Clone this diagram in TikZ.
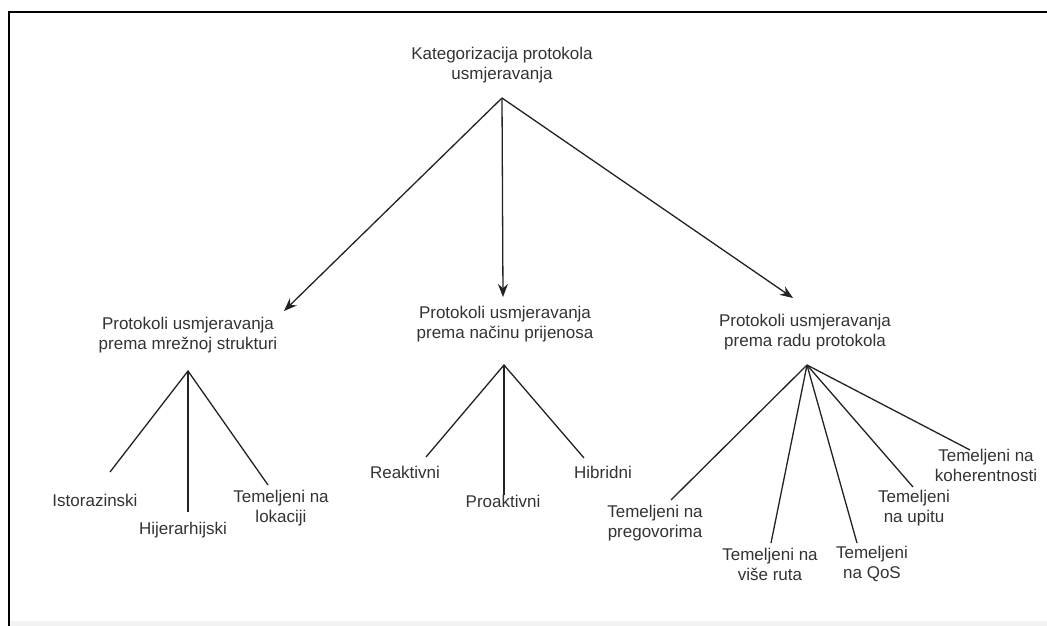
\documentclass[tikz,border=0pt]{standalone}
\usepackage{fontspec}
\setmainfont{Liberation Sans}
\usetikzlibrary{arrows.meta}
\definecolor{txt}{HTML}{333333}
\definecolor{ln}{HTML}{222222}
\tikzset{
  lbl/.style={align=center, text=txt, inner sep=0pt, font=\fontsize{17}{20}\selectfont},
  branch/.style={draw=ln, line width=1.3pt},
  arr/.style={draw=ln, line width=1.3pt, -{Stealth[length=13pt,width=10pt]}},
  frame/.style={draw=black, line width=2pt}
}
\begin{document}
\begin{tikzpicture}[x=1pt,y=-1pt]
\useasboundingbox (0,0) rectangle (1047,626);
\fill[black!5] (9,621) rectangle (1047,626);
\draw[frame] (1047,12) -- (9,12) -- (9,626);

% root
\node[lbl] (root) at (502,65) {Kategorizacija protokola\\usmjeravanja};
\coordinate (r) at (502,98);

% level 1
\node[lbl] (a) at (188,335) {Protokoli usmjeravanja\\prema mrežnoj strukturi};
\node[lbl] (b) at (505,324) {Protokoli usmjeravanja\\prema načinu prijenosa};
\node[lbl] (c) at (805,332) {Protokoli usmjeravanja\\prema radu protokola};
\coordinate (aT) at (284,311);
\coordinate (bT) at (503,297);
\coordinate (cT) at (793,298);
\draw[arr] (r) -- (aT);
\draw[arr] (r) -- (bT);
\draw[arr] (r) -- (cT);

% left subtree
\coordinate (ar) at (188,371);
\node[lbl] (a1) at (95,500) {Istorazinski};
\node[lbl] (a2) at (183,530) {Hijerarhijski};
\node[lbl] (a3) at (281,508) {Temeljeni na\\lokaciji};
\coordinate (a1e) at (110,472);
\coordinate (a2e) at (188,512);
\coordinate (a3e) at (268,485);
\draw[branch] (a1e) -- (ar) -- (a3e);
\draw[branch] (ar) -- (a2e);

% middle subtree
\coordinate (br) at (504,365);
\node[lbl] (b1) at (405,472) {Reaktivni};
\node[lbl] (b2) at (503,501) {Proaktivni};
\node[lbl] (b3) at (603,472) {Hibridni};
\coordinate (b1e) at (426,457);
\coordinate (b2e) at (504,495);
\coordinate (b3e) at (584,458);
\draw[branch] (b1e) -- (br) -- (b3e);
\draw[branch] (br) -- (b2e);

% right subtree
\coordinate (cr) at (807,365);
\node[lbl] (c1) at (655,523) {Temeljeni na\\pregovorima};
\node[lbl] (c2) at (770,564) {Temeljeni na\\više ruta};
\node[lbl] (c3) at (872,564) {Temeljeni\\na QoS};
\node[lbl] (c4) at (914,508) {Temeljeni\\na upitu};
\node[lbl] (c5) at (986,465) {Temeljeni na\\koherentnosti};
\coordinate (c1e) at (671,500);
\coordinate (c2e) at (771,543);
\coordinate (c3e) at (857,543);
\coordinate (c4e) at (913,487);
\coordinate (c5e) at (970,450);
\draw[branch] (cr) -- (c1e);
\draw[branch] (cr) -- (c2e);
\draw[branch] (cr) -- (c3e);
\draw[branch] (cr) -- (c4e);
\draw[branch] (cr) -- (c5e);
\end{tikzpicture}
\end{document}
